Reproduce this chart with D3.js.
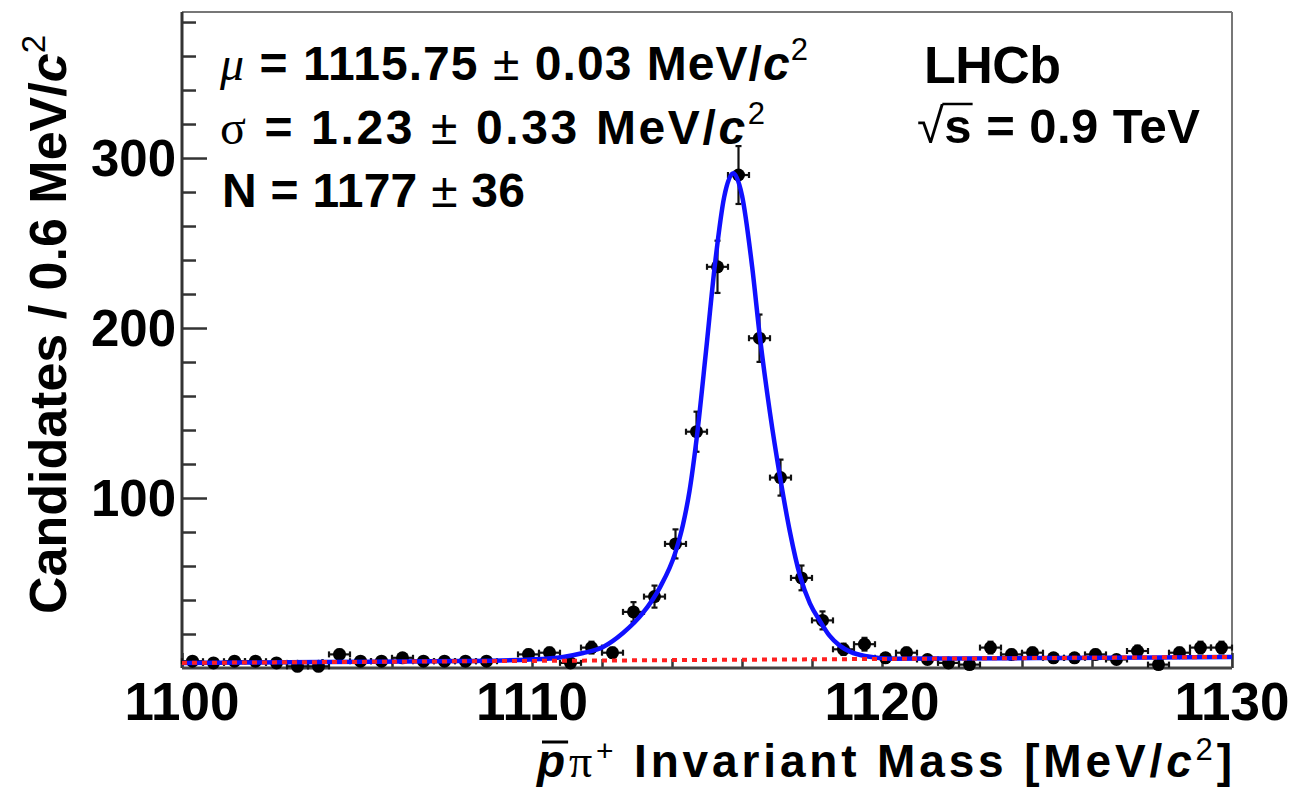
<!DOCTYPE html>
<html><head><meta charset="utf-8">
<script src="https://cdn.jsdelivr.net/npm/d3@7"></script>
<style>
body{margin:0;background:#fff}
svg{display:block}
text{font-family:"Liberation Sans",Arial,Helvetica,sans-serif;font-weight:bold;fill:#000}
</style>
</head><body>
<svg id="c" width="1294" height="790"></svg>
<script>
// ---- data ----
const binCenters = [1100.3,1100.9,1101.5,1102.1,1102.7,1103.3,1103.9,1104.5,1105.1,1105.7,
  1106.3,1106.9,1107.5,1108.1,1108.7,1109.3,1109.9,1110.5,1111.1,1111.7,
  1112.3,1112.9,1113.5,1114.1,1114.7,1115.3,1115.9,1116.5,1117.1,1117.7,
  1118.3,1118.9,1119.5,1120.1,1120.7,1121.3,1121.9,1122.5,1123.1,1123.7,
  1124.3,1124.9,1125.5,1126.1,1126.7,1127.3,1127.9,1128.5,1129.1,1129.7];
const counts = [4,3,4,4,3,1,1,8,4,4,
  6,4,4,4,4,0,8,9,3,12,
  9,33,42,73,139,236,290,194,112,53,
  28,11,14,6,9,5,3,2,12,8,
  9,6,6,8,5,10,2,9,12,12];
const binHalfWidth = 0.3;

const fitMass = [1100,1104,1108,1109.94,1110.89,1111.46,1112.03,1112.6,1113.17,1113.66,
  1114.09,1114.31,1114.5,1114.71,1114.97,1115.23,1115.49,1115.75,1116.0,1116.29,
  1116.51,1116.8,1117.09,1117.37,1117.66,1117.94,1118.23,1118.5,1118.8,1119.1,
  1119.51,1120.3,1122,1125,1130];
const fitValues = [3.0,3.5,4.1,5.0,6.5,8.8,12.4,20.6,32.4,47.6,
  67.6,84,104,136,186,238,277,291,278,236,
  195,150,112,80,54,38,27.6,19,13,9.5,
  7.1,5.5,5.6,5.9,6.5];
const bkgMass = [1100,1130];
const bkgValues = [3.0,6.5];

const xTicks = [1100,1110,1120,1130];
const xMinorTicks = [1102,1104,1106,1108,1112,1114,1116,1118,1122,1124,1126,1128];
const yTicks = [100,200,300];
const yMinorTicks = [20,40,60,80,120,140,160,180,220,240,260,280,320,340,360,380];

// ---- layout ----
const L = 182, R = 1232, T = 12, B = 668;
const svg = d3.select("#c");
const x = d3.scaleLinear().domain([1100,1130]).range([L,R]);
const y = d3.scaleLinear().domain([0,385.9]).range([B,T]);

// frame
svg.append("line").attr("x1",L).attr("x2",R).attr("y1",T).attr("y2",T).attr("stroke","#777").attr("stroke-width",2);
svg.append("line").attr("x1",R).attr("x2",R).attr("y1",T).attr("y2",B).attr("stroke","#777").attr("stroke-width",2);

// y axis
const yAx = svg.append("g").attr("transform",`translate(${L},0)`);
yAx.call(d3.axisRight(y).tickValues(yTicks).tickSize(25).tickFormat(""));
const yMin = svg.append("g").attr("transform",`translate(${L},0)`);
yMin.call(d3.axisRight(y).tickValues(yMinorTicks).tickSize(14).tickFormat(""));
[yAx,yMin].forEach(g=>{g.select(".domain").remove();g.selectAll("line").attr("stroke","#333").attr("stroke-width",2.5);});
svg.append("line").attr("x1",L).attr("x2",L).attr("y1",T).attr("y2",B).attr("stroke","#333").attr("stroke-width",3);
svg.append("g").selectAll("text").data(yTicks).join("text")
  .attr("x",L-6).attr("y",d=>y(d)).attr("dy","0.36em").attr("text-anchor","end")
  .style("font-size","51px").text(d=>d);

// x axis
const xAx = svg.append("g").attr("transform",`translate(0,${B})`);
xAx.call(d3.axisTop(x).tickValues(xTicks).tickSize(15).tickFormat(""));
const xMin = svg.append("g").attr("transform",`translate(0,${B})`);
xMin.call(d3.axisTop(x).tickValues(xMinorTicks).tickSize(9).tickFormat(""));
[xAx,xMin].forEach(g=>{g.select(".domain").remove();g.selectAll("line").attr("stroke","#333").attr("stroke-width",2.5);});
svg.append("line").attr("x1",L).attr("x2",R).attr("y1",B).attr("y2",B).attr("stroke","#444").attr("stroke-width",3);
svg.append("g").selectAll("text").data(xTicks).join("text")
  .attr("x",d=>x(d)).attr("y",720).attr("text-anchor","middle")
  .style("font-size","53px").text(d=>d);

// data points with error bars
const pts = binCenters.map((m,i)=>({m, v:counts[i]})).filter(d=>d.v>0);
const eg = svg.append("g").attr("stroke","#111").attr("stroke-width",2.2);
pts.forEach(d=>{
  const e = Math.sqrt(d.v);
  const cx = x(d.m), cy = y(d.v);
  const x0 = x(d.m-binHalfWidth), x1 = x(d.m+binHalfWidth);
  const y0 = y(d.v-e), y1 = y(d.v+e);
  eg.append("line").attr("x1",x0).attr("x2",x1).attr("y1",cy).attr("y2",cy);
  eg.append("line").attr("x1",cx).attr("x2",cx).attr("y1",Math.min(y0,B)).attr("y2",y1);
  eg.append("line").attr("x1",x0).attr("x2",x0).attr("y1",cy-3).attr("y2",cy+3);
  eg.append("line").attr("x1",x1).attr("x2",x1).attr("y1",cy-3).attr("y2",cy+3);
  eg.append("line").attr("x1",cx-3).attr("x2",cx+3).attr("y1",y1).attr("y2",y1);
  if (y0 < B) eg.append("line").attr("x1",cx-3).attr("x2",cx+3).attr("y1",y0).attr("y2",y0);
});
svg.append("g").selectAll("circle").data(pts).join("circle")
  .attr("cx",d=>x(d.m)).attr("cy",d=>y(d.v)).attr("r",6.5).attr("fill","#000");

// fit curve
const fitLine = d3.line().x(d=>x(d[0])).y(d=>y(d[1])).curve(d3.curveMonotoneX);
svg.append("path").datum(fitMass.map((m,i)=>[m,fitValues[i]]))
  .attr("d",fitLine).attr("fill","none").attr("stroke","#1010ff").attr("stroke-width",4.5);
svg.append("path").datum(bkgMass.map((m,i)=>[m,bkgValues[i]]))
  .attr("d",d3.line().x(d=>x(d[0])).y(d=>y(d[1]))).attr("fill","none")
  .attr("stroke","#ff2020").attr("stroke-width",4).attr("stroke-dasharray","5,5");

// annotations
const ann = svg.append("g");
function addRich(xp, yp, parts, size, len){
  const t = ann.append("text").attr("x",xp).attr("y",yp).style("font-size",size+"px");
  if (len) t.attr("textLength",len).attr("lengthAdjust","spacing");
  parts.forEach(p=>{
    const s = t.append("tspan").text(p.t);
    if (p.style) s.attr("style",p.style);
    if (p.dy) s.attr("dy",p.dy);
  });
  return t;
}
const sym = "font-family:'Liberation Serif',serif;font-weight:normal;";
addRich(220, 80, [
  {t:"μ", style:sym+"font-style:italic;"},
  {t:" = 1115.75 "},
  {t:"±", style:"font-weight:normal;"},
  {t:" 0.03 MeV/"},
  {t:"c", style:"font-style:italic;"},
  {t:"2", style:"font-size:31px;font-weight:normal;", dy:"-20"}
], 48, 588);
addRich(220, 144, [
  {t:"σ", style:sym},
  {t:" = 1.23 "},
  {t:"±", style:"font-weight:normal;"},
  {t:" 0.33 MeV/"},
  {t:"c", style:"font-style:italic;"},
  {t:"2", style:"font-size:31px;font-weight:normal;", dy:"-20"}
], 48, 545);
addRich(222, 207, [
  {t:"N = 1177 "},
  {t:"±", style:"font-weight:normal;"},
  {t:" 36"}
], 48, 303);
addRich(924, 83, [{t:"LHCb"}], 52, 137);
const rs = addRich(917, 143, [
  {t:"√", style:"font-weight:normal;"},
  {t:"s"},
  {t:" = 0.9 TeV"}
], 49, 283);
{
  const e = rs.node().getExtentOfChar(1);
  ann.append("line").attr("x1",e.x-2).attr("x2",e.x+e.width+1).attr("y1",104).attr("y2",104)
    .attr("stroke","#000").attr("stroke-width",2.5);
}

// axis titles
const xt = svg.append("text").attr("x",R).attr("y",777).attr("text-anchor","end")
  .style("font-size","46px").attr("textLength",695).attr("lengthAdjust","spacing");
xt.append("tspan").text("p").attr("style","font-style:italic;");
xt.append("tspan").text("π").attr("style",sym);
xt.append("tspan").text("+").attr("style","font-weight:normal;font-size:30px;").attr("dy","-16");
xt.append("tspan").text(" Invariant Mass [MeV/").attr("dy","16");
xt.append("tspan").text("c").attr("style","font-style:italic;");
xt.append("tspan").text("2").attr("style","font-size:31px;font-weight:normal;").attr("dy","-17");
xt.append("tspan").text("]").attr("dy","17");
{
  const e = xt.node().getExtentOfChar(0);
  svg.append("line").attr("x1",e.x+5).attr("x2",e.x+e.width+3).attr("y1",742).attr("y2",742)
    .attr("stroke","#000").attr("stroke-width",3);
}

const yt = svg.append("text").attr("transform","translate(66,35) rotate(-90)").attr("text-anchor","end").style("font-size","52px");
yt.append("tspan").text("Candidates / 0.6 MeV/");
yt.append("tspan").text("c").attr("style","font-style:italic;");
yt.append("tspan").text("2").attr("style","font-size:33px;font-weight:normal;").attr("dy","-21");
</script>
</body></html>
